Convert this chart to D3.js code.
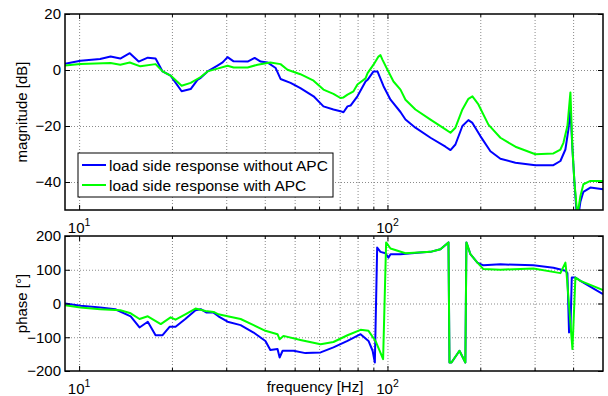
<!DOCTYPE html>
<meta charset="utf-8">
<script src="https://d3js.org/d3.v7.min.js"></script>
<style>
  body { margin: 0; background: #fff; }
  text { font-family: "Liberation Sans", Arial, Helvetica, sans-serif; }
</style>
<div id="my_dataviz"></div>
<script>

// ---- data (frequency in Hz) ----
const magFreqBlue = [9.0, 10.1, 11.7, 12.65, 13.6, 14.6, 15.6, 16.7, 17.7, 18.65, 19.8, 21.5, 23.0, 24.2, 24.8, 26.1, 28.1, 29.2, 30.3, 31.7,
  35.2, 37.1, 38.8, 40.8, 43.4, 45.0, 48.5, 52.2, 57.6, 62.0, 66.8, 70.4, 72.0, 74.2, 75.9, 79.9, 84.9, 86.2, 90.1, 92.8,
  97.1, 102.3, 110.2, 114.4, 123.2, 137.9, 154.2, 160.1, 166.1, 175.0, 183.0, 188.6, 200.1, 215.7, 232.4, 260.0, 301.8, 345.3, 363.8, 377.6,
  386.2, 392.0, 397.9, 403.9, 409.9, 416.1, 422.4, 431.9, 455.0, 500]
const magBlue = [2.2, 3.3, 3.9, 4.8, 4.1, 6.0, 3.0, 4.4, 4.1, -0.5, -2.0, -7.6, -6.8, -3.5, -2.8, -0.5, 1.6, 2.7, 4.6, 3.1,
  3.0, 4.3, 3.0, 2.7, 0.7, -3.2, -4.6, -6.5, -9.4, -13.0, -14.1, -14.7, -15.1, -13.0, -12.7, -9.4, -4.1, -3.5, -0.5, -0.5,
  -5.8, -10.6, -15.0, -17.7, -20.6, -24.2, -27.4, -28.6, -26.6, -20.0, -17.9, -18.9, -23.6, -29.0, -31.7, -33.1, -34.0, -34.0, -32.5, -28.4,
  -21.2, -14.0, -28.0, -40.0, -50.0, -52.0, -47.0, -43.5, -42.0, -42.6]

const magFreqGreen = [9.0, 10.1, 12.65, 13.6, 14.6, 15.8, 17.7, 18.65, 19.8, 21.5, 23.0, 24.8, 26.1, 28.1, 30.3, 31.7, 35.2, 37.9, 41.7, 45.0,
  47.4, 52.2, 57.6, 62.0, 66.8, 70.4, 72.0, 74.2, 77.6, 79.9, 84.9, 86.2, 90.1, 93.5, 94.9, 96.3, 100, 104.6, 110.2, 114.4,
  123.2, 137.9, 154.2, 160.1, 166.1, 175.0, 183.0, 188.6, 197.2, 212.5, 232.4, 260.0, 301.8, 345.3, 363.8, 372.1, 383.3, 392.0, 397.9, 403.9,
  413.0, 422.4, 431.9, 455.0, 500]
const magGreen = [1.6, 2.1, 2.5, 1.9, 2.7, 1.3, 2.1, -0.5, -2.0, -5.6, -4.6, -2.5, -0.5, 0.5, 1.5, 0.9, 0.9, 1.9, 2.7, 2.1,
  0.1, -1.5, -3.8, -7.0, -8.5, -10.0, -9.8, -8.8, -7.6, -5.2, -3.0, -1.1, 1.9, 4.8, 5.3, 3.7, 0.1, -4.1, -7.0, -10.6,
  -14.1, -17.7, -21.2, -22.4, -20.6, -14.1, -10.3, -9.4, -12.3, -19.5, -24.2, -27.4, -30.1, -29.8, -28.4, -26.0, -20.0, -8.0, -28.0, -40.0,
  -52.0, -45.0, -40.8, -39.6, -39.6]

const phFreqBlue = [9.0, 10.1, 11.7, 13.1, 14.7, 15.7, 16.7, 17.7, 18.65, 19.65, 20.55, 22.1, 23.85, 24.8, 25.9, 27.3, 28.3, 30.3, 33.4, 36.8,
  40.2, 41.7, 44.0, 44.7, 45.7, 49.6, 54.2, 60.7, 66.8, 74.2, 81.8, 86.8, 89.5, 91.0, 92.6, 94.9, 98.5, 100.7, 102.3, 110.2,
  127.9, 137.9, 148.5, 157.7, 158.9, 161.3, 171.2, 178.9, 180.3, 185.8, 195.7, 204.7, 232.4, 297.3, 345.3, 377.6, 383.3, 388.0, 392.0, 396.0,
  406.9, 422.4, 500]
const phBlue = [0, -7, -12, -17, -38, -71, -54, -94, -94, -69, -69, -46, -20, -17, -27, -27, -38, -54, -64, -86,
  -111, -138, -135, -160, -140, -140, -147, -145, -130, -111, -91, -111, -140, -175, 166, 153, 149, 136, 146, 146,
  151, 153, 161, 181, -175, -175, -140, -175, 181, 146, 121, 113, 116, 113, 106, 97, 90, -86, -80, 77,
  77, 67, 28]

const phFreqGreen = [9.0, 10.1, 11.7, 13.6, 14.7, 15.7, 16.7, 18.4, 19.8, 20.55, 22.1, 23.85, 25.7, 27.3, 28.3, 30.3, 33.4, 36.8, 40.2, 44.0,
  44.7, 46.0, 52.2, 60.7, 66.8, 74.2, 81.8, 86.8, 91.45, 96.8, 99.0, 102.3, 114.4, 137.9, 148.5, 157.7, 158.9, 161.3, 171.2, 178.9,
  180.3, 185.8, 195.7, 204.7, 232.4, 297.3, 363.8, 377.6, 381.0, 398.0, 406.9, 422.4, 500]
const phGreen = [-5, -12, -17, -20, -29, -46, -38, -61, -41, -48, -32, -15, -22, -25, -32, -38, -46, -64, -81, -91,
  -106, -96, -108, -121, -114, -94, -78, -81, -111, -165, 181, 163, 149, 153, 161, 181, -175, -175, -140, -175,
  181, 146, 121, 102, 100, 104, 90, 121, 88, -135, 77, 67, 40]

const legendLabels = ["load side response without APC", "load side response with APC"]
const magTicks = [20, 0, -20, -40]
const phTicks = [200, 100, 0, -100, -200]
const xMajor = [10, 100]

// ---- layout ----
const width = 608, height = 396
const left = 65, right = 603
const fontSize = 15
const colBlue = "#0000ff", colGreen = "#00ff00"

const svg = d3.select("#my_dataviz").append("svg")
  .attr("width", width).attr("height", height)

const x = d3.scaleLog().domain([9, 500]).range([left, right])
const xAll = x.ticks().filter(t => t > 9 && t < 500)
const xMinor = xAll.filter(t => !xMajor.includes(t))

function panel(top, bottom, y, yTicks, seriesB, seriesG, id, yLabel) {
  const h = bottom - top
  const [y0, y1] = y.domain()
  const g = svg.append("g")

  // dotted grid
  g.append("g").attr("transform", `translate(0,${bottom})`)
    .call(d3.axisBottom(x).tickValues(xAll).tickSize(-h).tickFormat(""))
    .call(a => a.select(".domain").remove())
  g.append("g").attr("transform", `translate(${left},0)`)
    .call(d3.axisLeft(y).tickValues(yTicks.filter(t => t > y0 && t < y1)).tickSize(-(right - left)).tickFormat(""))
    .call(a => a.select(".domain").remove())
  g.selectAll(".tick line").attr("stroke", "#8a8a8a").attr("stroke-dasharray", "1,2")

  // clipped lines
  svg.append("clipPath").attr("id", id).append("rect")
    .attr("x", left).attr("y", top).attr("width", right - left).attr("height", h)
  const line = d3.line().x(d => x(d[0])).y(d => y(d[1]))
  const lines = svg.append("g").attr("clip-path", `url(#${id})`)
  lines.append("path").datum(seriesB).attr("d", line)
    .attr("fill", "none").attr("stroke", colBlue).attr("stroke-width", 2).attr("stroke-linejoin", "round")
  lines.append("path").datum(seriesG).attr("d", line)
    .attr("fill", "none").attr("stroke", colGreen).attr("stroke-width", 2).attr("stroke-linejoin", "round")

  // frame + inward ticks
  const ax = svg.append("g")
  ax.append("g").attr("transform", `translate(0,${bottom})`)
    .call(d3.axisBottom(x).tickValues(xMajor).tickSize(-5).tickFormat(""))
  ax.append("g").attr("transform", `translate(0,${bottom})`)
    .call(d3.axisBottom(x).tickValues(xMinor).tickSize(-3).tickFormat(""))
  ax.append("g").attr("transform", `translate(0,${top})`)
    .call(d3.axisTop(x).tickValues(xMajor).tickSize(-5).tickFormat(""))
  ax.append("g").attr("transform", `translate(0,${top})`)
    .call(d3.axisTop(x).tickValues(xMinor).tickSize(-3).tickFormat(""))
  ax.append("g").attr("transform", `translate(${right},0)`)
    .call(d3.axisRight(y).tickValues(yTicks).tickSize(-5).tickFormat(""))
  ax.append("g").attr("transform", `translate(${left},0)`)
    .call(d3.axisLeft(y).tickValues(yTicks).tickSize(-5).tickPadding(4))
    .call(a => a.selectAll("text").attr("font-size", fontSize).attr("font-family", null).attr("fill", "#000"))
  ax.selectAll(".domain").remove()
  ax.selectAll("line").attr("stroke", "#000")
  ax.append("rect").attr("x", left).attr("y", top).attr("width", right - left).attr("height", h)
    .attr("fill", "none").attr("stroke", "#000").attr("stroke-width", 1.5)

  // x tick labels 10^n
  const lab = svg.append("g").selectAll("text").data(xMajor).join("text")
    .attr("x", d => x(d)).attr("y", bottom + 23).attr("text-anchor", "middle").attr("font-size", fontSize)
  lab.append("tspan").text("10")
  lab.append("tspan").attr("font-size", 10.5).attr("dy", -7).text(d => Math.round(Math.log10(d)))

  // y label
  svg.append("text").attr("transform", `translate(${left - 44},${(top + bottom) / 2}) rotate(-90)`)
    .attr("text-anchor", "middle").attr("dominant-baseline", "central").attr("font-size", fontSize).text(yLabel)
}

const yMag = d3.scaleLinear().domain([-50, 20]).range([210, 14])
const yPh = d3.scaleLinear().domain([-200, 200]).range([371, 236])

panel(14, 210, yMag, magTicks,
  d3.zip(magFreqBlue, magBlue), d3.zip(magFreqGreen, magGreen), "clipMag", "magnitude [dB]")
panel(236, 371, yPh, phTicks,
  d3.zip(phFreqBlue, phBlue), d3.zip(phFreqGreen, phGreen), "clipPh", "phase [°]")

// x label
svg.append("text").attr("x", 315).attr("y", 392).attr("text-anchor", "middle")
  .attr("font-size", fontSize).text("frequency [Hz]")

// legend
const leg = svg.append("g").attr("transform", "translate(78,153)")
leg.append("rect").attr("width", 255).attr("height", 44)
  .attr("fill", "#fff").attr("stroke", "#000").attr("stroke-width", 1)
const items = leg.selectAll(".item").data(legendLabels).join("g")
  .attr("transform", (d, i) => `translate(0,${12 + i * 20})`)
items.append("line").attr("x1", 4).attr("x2", 28)
  .attr("stroke", (d, i) => i === 0 ? colBlue : colGreen).attr("stroke-width", 2)
items.append("text").attr("x", 31).attr("dominant-baseline", "central").attr("font-size", 15.5).text(d => d)

</script>
